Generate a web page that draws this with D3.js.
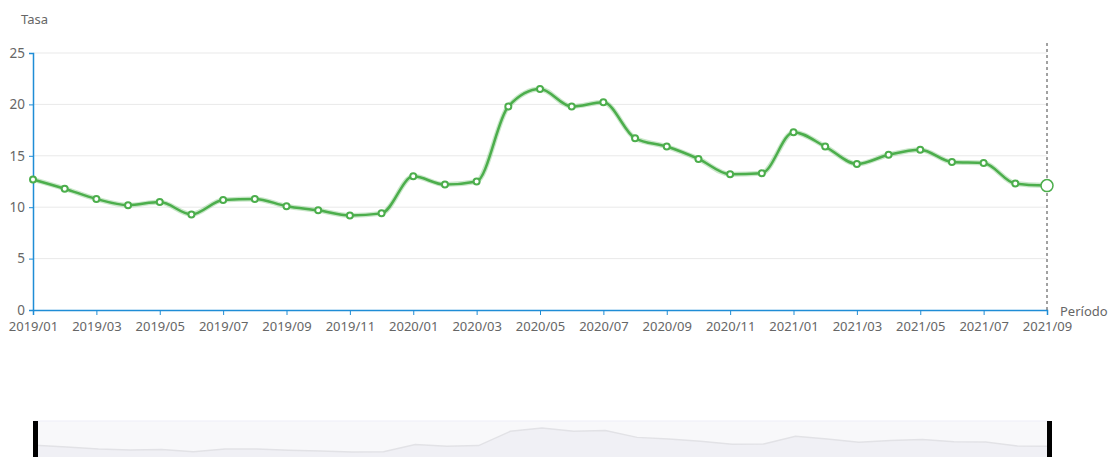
<!DOCTYPE html>
<html>
<head>
<meta charset="utf-8">
<script src="https://cdn.jsdelivr.net/npm/d3@7"></script>
<style>
  body { margin: 0; background: #fff; }
  text { font-family: "Noto Sans", sans-serif; }
</style>
</head>
<body>
<div id="canvas"></div>
<script>
let periods = ['2019/01','2019/02','2019/03','2019/04','2019/05','2019/06','2019/07','2019/08','2019/09','2019/10','2019/11','2019/12',
  '2020/01','2020/02','2020/03','2020/04','2020/05','2020/06','2020/07','2020/08','2020/09','2020/10','2020/11','2020/12',
  '2021/01','2021/02','2021/03','2021/04','2021/05','2021/06','2021/07','2021/08','2021/09'];
let tasa = [12.7, 11.8, 10.8, 10.2, 10.5, 9.3, 10.7, 10.8, 10.1, 9.7, 9.2, 9.4,
  13.0, 12.2, 12.5, 19.8, 21.5, 19.8, 20.2, 16.7, 15.9, 14.7, 13.2, 13.3,
  17.3, 15.9, 14.2, 15.1, 15.6, 14.4, 14.3, 12.3, 12.1];
let yTicks = [0, 5, 10, 15, 20, 25];

let width = 1109, height = 457;
let padLeft = 33, padRight = 1047, padTop = 53, padBottom = 310;

let svg = d3.select('#canvas').append('svg')
  .attr('width', width)
  .attr('height', height);

let x = d3.scalePoint().domain(periods).range([padLeft, padRight]);
let y = d3.scaleLinear().domain([0, 25]).range([padBottom, padTop]);

// grid lines
svg.append('g')
  .selectAll('line')
  .data(yTicks.slice(1))
  .enter()
  .append('line')
  .attr('x1', padLeft)
  .attr('x2', padRight)
  .attr('y1', d => y(d))
  .attr('y2', d => y(d))
  .attr('stroke', '#e9e9e9')
  .attr('stroke-width', 1);

// y axis
let yAxis = svg.append('g')
  .attr('transform', 'translate(' + padLeft + ',0)')
  .call(d3.axisLeft(y).tickValues(yTicks).tickSize(4).tickPadding(4));
yAxis.select('.domain').attr('stroke', '#1f8dd6').attr('stroke-width', 1.5);
yAxis.selectAll('.tick line').attr('stroke', '#1f8dd6');
yAxis.selectAll('.tick text').attr('fill', '#666').style('font-size', '13.5px');

// x axis
let xAxis = svg.append('g')
  .attr('transform', 'translate(0,' + padBottom + ')')
  .call(d3.axisBottom(x).tickValues(periods.filter((d, i) => i % 2 === 0)).tickSize(5).tickPadding(7));
xAxis.select('.domain').attr('stroke', '#1f8dd6').attr('stroke-width', 1.5);
xAxis.selectAll('.tick line').attr('stroke', '#1f8dd6');
xAxis.selectAll('.tick text').attr('fill', '#666').style('font-size', '13px');

// axis names
svg.append('text')
  .attr('x', 21)
  .attr('y', 24)
  .attr('fill', '#666')
  .style('font-size', '13px')
  .text('Tasa');

svg.append('text')
  .attr('x', 1060)
  .attr('y', 316)
  .attr('fill', '#666')
  .style('font-size', '13px')
  .text('Período');

// axis pointer
svg.append('line')
  .attr('x1', x(periods[periods.length - 1]))
  .attr('x2', x(periods[periods.length - 1]))
  .attr('y1', padTop - 10)
  .attr('y2', padBottom)
  .attr('stroke', '#444')
  .attr('stroke-dasharray', '3,3')
  .attr('stroke-width', 1);

// line
let line = d3.line()
  .x((d, i) => x(periods[i]))
  .y(d => y(d))
  .curve(d3.curveMonotoneX);

svg.append('path')
  .datum(tasa)
  .attr('d', line)
  .attr('fill', 'none')
  .attr('stroke', '#4cae4c')
  .attr('stroke-opacity', 0.3)
  .attr('stroke-width', 5);

svg.append('path')
  .datum(tasa)
  .attr('d', line)
  .attr('fill', 'none')
  .attr('stroke', '#4cae4c')
  .attr('stroke-width', 2.5);

svg.selectAll('circle.pt')
  .data(tasa)
  .enter()
  .append('circle')
  .attr('class', 'pt')
  .attr('cx', (d, i) => x(periods[i]))
  .attr('cy', d => y(d))
  .attr('r', (d, i) => i === tasa.length - 1 ? 6 : 3)
  .attr('fill', '#fff')
  .attr('stroke', '#4cae4c')
  .attr('stroke-width', (d, i) => i === tasa.length - 1 ? 1.5 : 2);

// data zoom slider
let zTop = 421, zBottom = 471;
let zy = d3.scaleLinear().domain([0, d3.max(tasa)]).range([zBottom - 1, 428]);

svg.append('rect')
  .attr('x', padLeft + 2)
  .attr('y', zTop)
  .attr('width', padRight - padLeft)
  .attr('height', zBottom - zTop)
  .attr('fill', '#f8f8fa')
  .attr('stroke', '#eeeef8');

let area = d3.area()
  .x((d, i) => x(periods[i]) + 2)
  .y0(zBottom)
  .y1(d => zy(d));

svg.append('path')
  .datum(tasa)
  .attr('d', area)
  .attr('fill', '#f0f0f5');

svg.append('path')
  .datum(tasa)
  .attr('d', d3.line().x((d, i) => x(periods[i]) + 2).y(d => zy(d)))
  .attr('fill', 'none')
  .attr('stroke', '#e2e2e6')
  .attr('stroke-width', 1.5);

svg.selectAll('rect.handle')
  .data([padLeft, padRight])
  .enter()
  .append('rect')
  .attr('class', 'handle')
  .attr('x', d => d)
  .attr('y', zTop)
  .attr('width', 5)
  .attr('height', zBottom - zTop)
  .attr('fill', '#000');
</script>
</body>
</html>
